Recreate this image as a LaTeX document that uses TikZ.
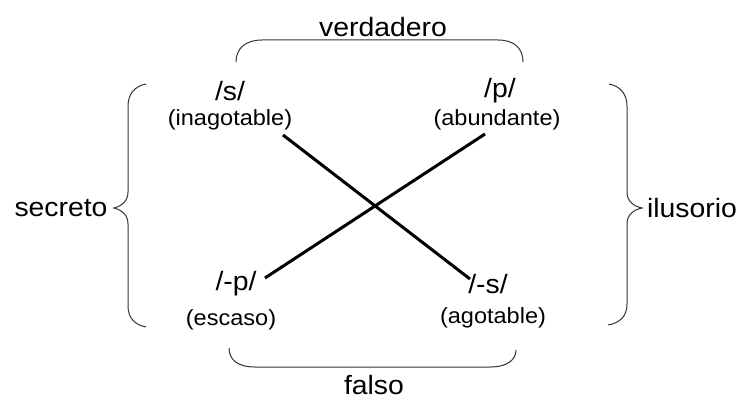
\documentclass[tikz,border=0pt]{standalone}
\usepackage{fontspec}
\setmainfont{Liberation Sans}
\newcommand{\sx}[1]{\scalebox{1.07}[1]{#1}}
\begin{document}
\begin{tikzpicture}[x=1pt,y=1pt,
  big/.style={font=\fontsize{26.5}{29}\selectfont, inner sep=0pt},
  small/.style={font=\fontsize{22}{25}\selectfont, inner sep=0pt},
  bracepath/.style={line width=1pt, draw=black!80},
  crossline/.style={line width=3pt, black}]
\useasboundingbox (0,0) rectangle (742,-406);
% labels
\node[big] (ver) at (383,-27) {\sx{verdadero}};
\node[big] (fal) at (374,-385) {\sx{falso}};
\node[big] (sec) at (61,-208) {\sx{secreto}};
\node[big] (ilu) at (692,-208) {\sx{ilusorio}};
\node[big] (s) at (230,-91) {\sx{/s/}};
\node[small] (sl) at (230,-120) {\sx{(inagotable)}};
\node[big] (p) at (500,-91) {\sx{/p/}};
\node[small] (pl) at (497,-120) {\sx{(abundante)}};
\node[big] (np) at (236,-284) {\sx{/-p/}};
\node[small] (npl) at (231,-320) {\sx{(escaso)}};
\node[big] (ns) at (488,-284) {\sx{/-s/}};
\node[small] (nsl) at (493,-318) {\sx{(agotable)}};
% cross endpoints
\coordinate (a1) at (283,-135);
\coordinate (a2) at (470,-279);
\coordinate (b1) at (265,-278);
\coordinate (b2) at (485,-134);
\draw[crossline] (a1) -- (a2);
\draw[crossline] (b1) -- (b2);
% top bracket
\draw[bracepath] (236,-62) .. controls (236,-48) and (246,-40) .. (262,-40) -- (498,-40) .. controls (514,-40) and (523,-48) .. (523,-62);
% bottom bracket
\draw[bracepath] (229,-348) .. controls (229,-360) and (238,-367) .. (255,-367) -- (490,-367) .. controls (507,-367) and (516,-360) .. (516,-350);
% left brace
\draw[bracepath] (146,-84) .. controls (135,-86) and (128,-94) .. (128,-106) -- (128,-192)
  .. controls (128,-201) and (122,-206) .. (114,-208)
  .. controls (122,-210) and (128,-215) .. (128,-224) -- (128,-306)
  .. controls (128,-318) and (135,-325) .. (146,-327);
% right brace
\draw[bracepath] (609,-84) .. controls (620,-86) and (627,-94) .. (627,-106) -- (627,-192)
  .. controls (627,-201) and (633,-206) .. (642,-208)
  .. controls (633,-210) and (627,-215) .. (627,-224) -- (627,-304)
  .. controls (627,-316) and (620,-323) .. (608,-325);
\end{tikzpicture}
\end{document}
